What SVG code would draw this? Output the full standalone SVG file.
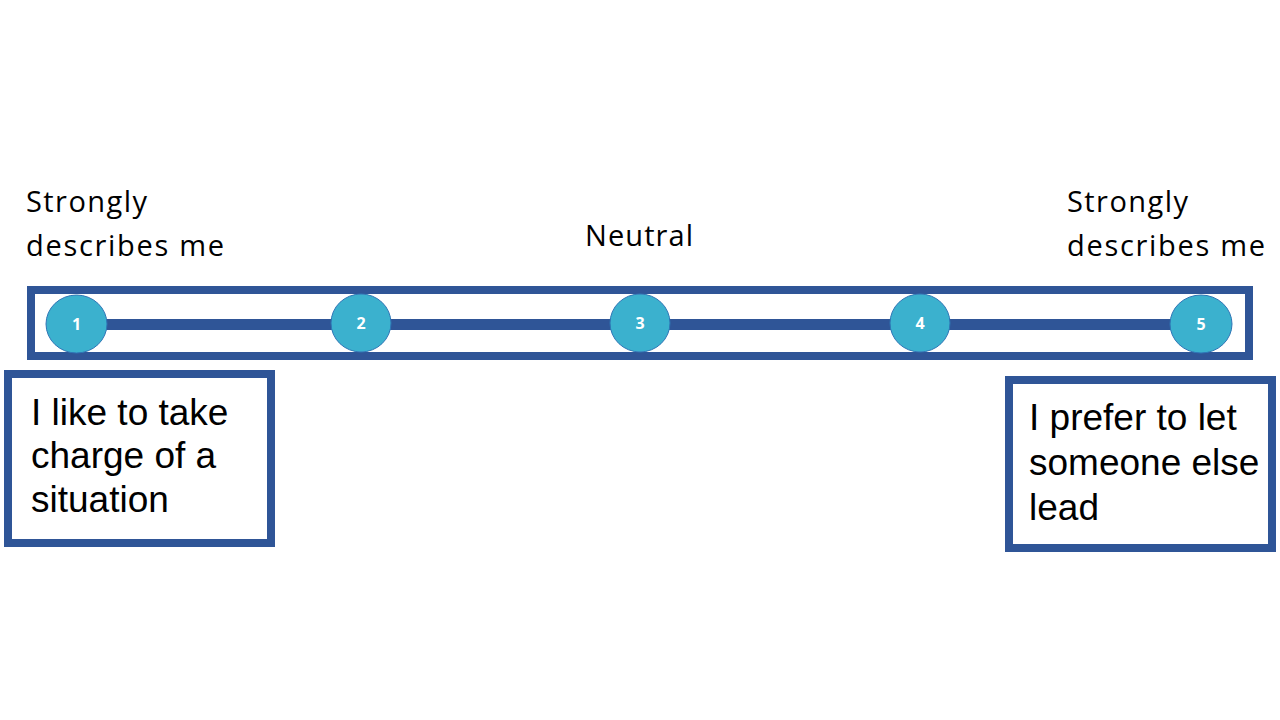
<svg xmlns="http://www.w3.org/2000/svg" width="1280" height="720" viewBox="0 0 1280 720">
<style>
.frame{fill:none;stroke:#2F5597;stroke-width:8}
.bar{stroke:#2F5597;stroke-width:11}
.dot{fill:#3BB1CE;stroke:#2E75B6;stroke-width:1}
.num{font-family:"Open Sans","Lato",sans-serif;font-weight:bold;font-size:16px;fill:#ffffff;text-anchor:middle}
.lbl{font-family:"Open Sans","Lato",sans-serif;font-size:29px;fill:#000000}
.box{font-family:"Liberation Sans",Arial,sans-serif;font-size:37px;fill:#000000}
</style>
<rect width="1280" height="720" fill="#ffffff"/>
<g id="scale-frame"><rect class="frame" x="31" y="290" width="1218" height="66"/></g>
<g id="connectors"><line class="bar" x1="100" y1="324.5" x2="1175" y2="324.5"/></g>
<g id="node-1"><ellipse class="dot" cx="76.5" cy="324" rx="30.5" ry="29"/><text class="num" x="76.5" y="330">1</text></g>
<g id="node-2"><ellipse class="dot" cx="361" cy="323" rx="30" ry="29"/><text class="num" x="361" y="329">2</text></g>
<g id="node-3"><ellipse class="dot" cx="640" cy="323" rx="30" ry="29"/><text class="num" x="640" y="329">3</text></g>
<g id="node-4"><ellipse class="dot" cx="920" cy="323" rx="30" ry="29"/><text class="num" x="920" y="329">4</text></g>
<g id="node-5"><ellipse class="dot" cx="1201" cy="324" rx="31" ry="29"/><text class="num" x="1201" y="330">5</text></g>
<g id="label-left"><text class="lbl" x="26" y="212" textLength="121" lengthAdjust="spacing">Strongly</text><text class="lbl" x="26" y="256" textLength="198" lengthAdjust="spacing">describes me</text></g>
<g id="label-neutral"><text class="lbl" x="585" y="246" textLength="108" lengthAdjust="spacing">Neutral</text></g>
<g id="label-right"><text class="lbl" x="1067" y="212" textLength="121" lengthAdjust="spacing">Strongly</text><text class="lbl" x="1067" y="256" textLength="198" lengthAdjust="spacing">describes me</text></g>
<g id="box-left"><rect class="frame" x="8" y="374" width="263" height="169"/><text class="box" x="31" y="425">I like to take</text><text class="box" x="31" y="468">charge of a</text><text class="box" x="31" y="512">situation</text></g>
<g id="box-right"><rect class="frame" x="1009" y="380" width="263" height="168"/><text class="box" x="1029" y="430">I prefer to let</text><text class="box" x="1029" y="475">someone else</text><text class="box" x="1029" y="520">lead</text></g>
</svg>
